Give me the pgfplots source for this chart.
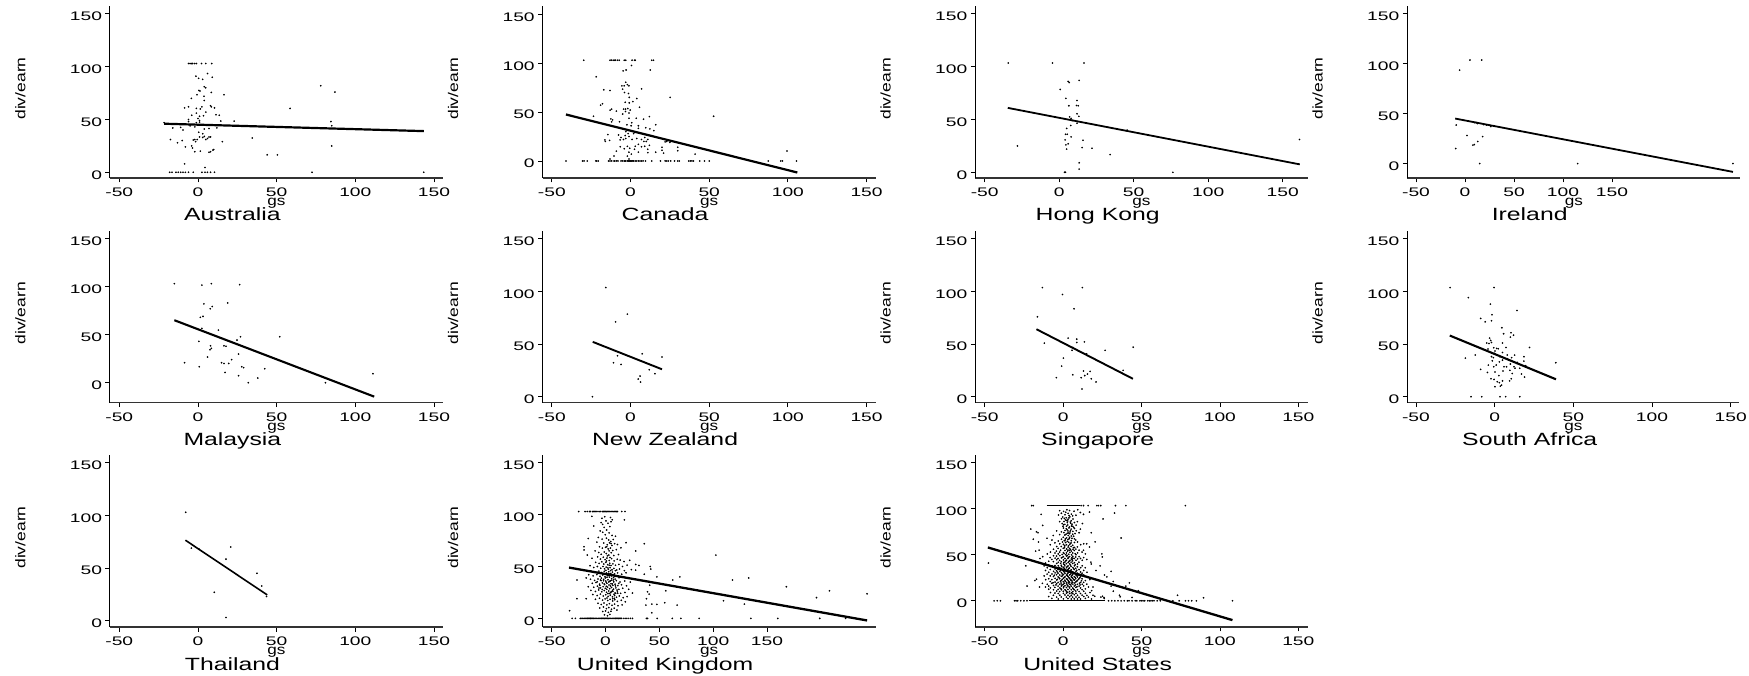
\documentclass[border=0pt]{standalone}
\usepackage{pgfplots}
\pgfplotsset{compat=1.18}
\usepackage{fontspec}
\setmainfont{Liberation Sans}
\newfontfamily\tickf[FakeStretch=1.55]{Liberation Sans}
\newfontfamily\titlef[FakeStretch=1.4]{Liberation Sans}
\newfontfamily\labf[FakeStretch=1.25]{Liberation Sans}
\pgfplotsset{
 panel/.style={
  scale only axis,width=333pt,height=171.5pt,
  axis x line=bottom,axis y line=left,
  x axis line style={-,black!80,line width=1.2pt},
  y axis line style={-,black,line width=1pt},
  xtick={-50,0,50,100,150},xticklabels={-50,0,50,100,150},
  ytick={0,50,100,150},yticklabels={0,50,100,150},
  tick align=outside,major tick length=4.5pt,
  tick style={black,line width=0.8pt},
  x tick label style={font=\tickf\fontsize{12.4}{12.4}\selectfont,yshift=-2pt},
  y tick label style={font=\tickf\fontsize{12.4}{12.4}\selectfont,yshift=-2.6pt},
  xlabel={gs},ylabel={div/earn},
  xlabel style={at={(axis description cs:0.5,0)},anchor=base,yshift=-27.5pt,font=\labf\fontsize{13.7}{14}\selectfont},
  ylabel style={at={(axis description cs:0,0.5)},anchor=center,xshift=3.7pt,yshift=89.7pt,font=\labf\fontsize{14}{14}\selectfont},
  title style={at={(axis description cs:0,0)},anchor=base,xshift=122.4pt,yshift=-49pt,font=\titlef\fontsize{17.7}{18}\selectfont},
 },
 dots/.style={only marks,mark=*,mark size=0.62pt,black,mark options={draw=none,fill=black}},
 fit/.style={no marks,black,line width=#1},
}
\begin{document}
\begin{tikzpicture}[x=1pt,y=1pt]
\path[use as bounding box] (0,0) rectangle (1749,675);
% ---- Australia
\begin{axis}[panel,at={(110pt,497pt)},xmin=-55.9,xmax=155.7,ymin=-5.4,ymax=157,title={Australia}]
\addplot[dots] coordinates {(-6,103)(-5,103)(-4.2,103)(-3.4,103)(-2.1,103)(-1,103)(2.3,103)(4.9,103)(8.7,103)
(-4.2,70)(-.6,73.4)(3.8,72)(4,68)(8.5,75.6)(16.5,73.4)(.6,77.5)(1.3,77)(4,81)(4.9,80)(-1.3,91)(.4,89)(3,88)(6.1,93.5)(9.1,90)
(-8.5,61)(-6,62)(-1,60.5)(1.5,60)(2.5,62)(8,63)(8.5,62)(10.5,61)(5,57)(-1,56)(-4,54)(1,53)(3.5,53.5)(11.5,54.5)(13.5,54)(14.5,48.5)(23,48.5)(-6,50)(-6,48)(-1,47)(1,49)(1,47.5)(0,51)(-21.5,47)(-16,42)(-11,42.5)(-9.5,40)(-5,44)(-2,43)(4,41)(7,41.5)(12,42)(0.5,38)(3,36.5)(-17.5,31)(-13,28)(-10,30)(-4,25)(-3.5,23)(-8,24)(-3,30.5)(-2,31)(-1.5,29)(-.5,31)(1,33.5)(3,33)(4,34)(5,31)(6,32)(7,33.5)(8,33.5)(15.5,29)(-2,19.5)(1.5,20)(7,19)(8,19.5)(9.5,21)(10,21.5)(-8.5,8)(4.5,4.5)(34.5,32.5)(44,16.5)(50.5,16.5)(58.5,60.5)(78,82)(87,76)(84.5,48)(85,44)(85,25)
(-18,0)(-16.5,0)(-14,0)(-12.5,0)(-11,0)(-9.5,0)(-8,0)(-6,0)(-3,0)(2.5,0)(4.5,0)(6,0)(8,0)(10.5,0)(72.5,0)(143.5,0)};
\addplot[fit=2.2pt] coordinates {(-21.5,46)(143.5,39)};
\end{axis}
% ---- Canada
\begin{axis}[panel,at={(542.7pt,497pt)},xmin=-55.8,xmax=155.8,ymin=-17.4,ymax=157.9,title={Canada}]
\addplot[dots] coordinates {(-29.7,103)(-13,103)(-12,103)(-11,103)(-10,103)(-9.5,103)(-8.3,103)(-7.2,103)(-4,103)(-3,103)(1,103)(2.5,103)(3,103)(13.5,103)(14.6,103)
(-4.7,92)(-2.8,93)(.6,97.6)(12.5,93)(-21.8,86)(-17,72.7)(-13,72)(7,73.7)(25.2,65)(52.8,45.7)(99.4,10.2)
(-5.5,76.8)(-4,76.8)(-3,80.5)(-2,78)(-1,76.8)(-5,73.4)(-3.8,70)(-1.3,69)(-.8,65)(4,63.8)(1.5,60.7)(-3.4,60)(-.8,59.4)(-17.8,58.4)(-19,57)(5.7,55)(-13,52)(-12,53)(-9,51)(-4.4,53)(-3.2,53)(-1.7,53.6)(-.2,52)(-3.2,50.5)(-5,48)(-1,49)(-23.5,45.7)(12,45.4)(-12.5,43)(-11.4,42)(-12,40)(-7,40)(3.6,43.7)(8.3,42.7)(16,37)(-1,43.7)(.8,39)(.4,36)(5,36)(-2.3,37)(5,33.4)(9.7,34)(12.3,32.8)(14.8,31)(-14.4,27)(-16.3,21.5)(-16,20)(-13.3,21)(-7.6,26.6)(-3.4,26)(-6.6,21.5)
(-5,33)(-3,30)(-1.5,28)(0,31)(2,28)(-6,24)(-4.5,22)(-3,23)(-1,25)(1,22)(4,23)(7,22)(9,24)(10,20)(11,22)(8.5,20)(5,17)(3,15)(-2,15)(-6.5,14.5)(-4,12.5)(-.5,13)(2.5,12)(7,14.5)(9,15)(12,16)(11,12)(5,9)(11,8.5)(16,9)(20,14)(20,11)(21,8)(23,20)(25,19)(30,14)(30,10.5)(41,7)(-9,10)(-10.5,5)(-13,2)(-1,9)(-2,5)(-1,2)(0.5,7)(22,19.5)
(-41,0)(-30.5,0)(-29.5,0)(-27.5,0)(-22,0)(-21.5,0)(-20.5,0)(-14,0)(-13,0)(-12,0)(-10.5,0)(-10,0)(-9,0)(-8,0)(-6,0)(-5,0)(-4,0)(-3.5,0)(-3,0)(-2,0)(-1.5,0)(-1,0)(-.5,0)(0,0)(.5,0)(1,0)(1.5,0)(2,0)(3,0)(4,0)(5,0)(6,0)(7,0)(8,0)(9.5,0)(13.5,0)(19,0)(22,0)(23,0)(24,0)(25.5,0)(28,0)(30,0)(31,0)(37,0)(38,0)(39,0)(40,0)(44,0)(47,0)(50,0)(87.5,0)(95.5,0)(96.5,0)(105.5,0)};
\addplot[fit=2.2pt] coordinates {(-41,47.5)(106,-11.8)};
\end{axis}
% ---- Hong Kong
\begin{axis}[panel,at={(975.3pt,497pt)},width=332.4pt,xmin=-56.3,xmax=166.8,ymin=-5.4,ymax=157,title={Hong Kong}]
\addplot[dots] coordinates {(-34.2,103.5)(-4.5,103.5)(16.6,103.5)(6,86)(6.7,85)(13.4,87)(.7,78.5)(4.5,70)(12,68)(6.5,63)(11.6,63.3)(12.8,63)(13.2,53)(12,55.4)(7,52.5)(8,51)(8.7,49)(12,46.5)(7.8,44.3)(5,41.5)(45.6,40)(4.3,36)(5.4,36)(8,33.5)(4,30.7)(16,30.4)(4.5,26)(6,27)(-28,25)(5,22)(15.4,23.4)(22,22.8)(34.2,16.8)(13.4,9)(13.4,3)(3.6,0)(4.2,0)(76.3,0)(161.3,31)};
\addplot[fit=1.8pt] coordinates {(-34.5,61)(161.5,7.5)};
\end{axis}
% ---- Ireland
\begin{axis}[panel,at={(1407.3pt,497pt)},xmin=-58.9,xmax=281,ymin=-14.4,ymax=157,title={Ireland}]
\addplot[dots] coordinates {(5,103.5)(17,103.5)(-5.5,93.4)(-9,38.5)(2,28)(-9.5,15)(8,18.4)(9.5,19)(13,22)(18,27)(9.5,41)(11.3,41)(12.6,40)(19,39)(22,38.5)(26.3,37)(15,0)(115,0)(273.5,0)};
\addplot[fit=1.8pt] coordinates {(-10,45)(273.5,-8.3)};
\end{axis}
% ---- Malaysia
\begin{axis}[panel,at={(110pt,272.3pt)},xmin=-55.9,xmax=155.7,ymin=-20.8,ymax=157.6,title={Malaysia}]
\addplot[dots] coordinates {(-15,103)(2.5,101.5)(8.5,103)(26.5,102)(3.8,82)(18.9,83)(9.1,79.3)(7.8,77)(1.5,68)(3.2,69)(2.5,56.5)(13,54.7)(27,47.8)(52,47.8)(24.8,44.3)(.6,43)(16.5,38.4)(17.8,38)(8,38.4)(8.5,35.7)(7.6,34.3)(25.8,29.8)(6.1,26.7)(21.4,24)(15,20.8)(16.5,20)(19.5,20)(-8.5,20.8)(.8,16.6)(27.8,16.6)(29,15.6)(42.4,14.5)(17.2,10.7)(25.8,7.3)(38,4.8)(32,0)(81,0)(111.2,9.4)};
\addplot[fit=2.1pt] coordinates {(-15,65)(112,-14.5)};
\end{axis}
% ---- New Zealand
\begin{axis}[panel,at={(542.7pt,272.3pt)},xmin=-55.8,xmax=155.8,ymin=-5.7,ymax=157,title={New Zealand}]
\addplot[dots] coordinates {(-15.7,103.5)(-2,78.3)(-9.5,71)(7.4,40.7)(20,37.6)(-8.3,38.8)(-10.8,32.2)(-6,30.6)(11.9,25.6)(15.5,21.8)(6.1,19.6)(4.9,16.7)(6.4,13.9)(-24.2,0)};
\addplot[fit=1.9pt] coordinates {(-24,52)(20,26)};
\end{axis}
% ---- Singapore
\begin{axis}[panel,at={(975.3pt,272.3pt)},width=332.4pt,xmin=-56,xmax=156,ymin=-5.7,ymax=157,title={Singapore}]
\addplot[dots] coordinates {(-13.2,103.5)(12.3,103.5)(-.4,97)(7,83.4)(-16.4,75.8)(3.2,55.6)(8.7,54.6)(8.7,51.5)(13.6,52)(-12,50.8)(44.7,47)(26.8,44)(6.2,46.7)(5.7,44)(15,40.7)(.2,36.6)(-.9,29)(38.3,25)(13,24.3)(17.2,24)(15.5,21.5)(13.8,20)(6.2,20.8)(-4.3,18)(11.5,18)(18,17)(21,14)(12,7.3)};
\addplot[fit=1.9pt] coordinates {(-17,64)(44.5,17)};
\end{axis}
% ---- South Africa
\begin{axis}[panel,at={(1407.3pt,272.3pt)},width=332pt,xmin=-55.5,xmax=155.5,ymin=-5.7,ymax=157,title={South Africa}]
\addplot[dots] coordinates {(-28.3,103.5)(-.4,103.5)(-16.7,94)(-2.7,87.8)(14.2,81.8)(-1.7,77.7)(-8.9,74.2)(-2,72)(-6,71)(4.6,65.4)(5.7,59.7)(10.4,60.6)(12,58.4)(10,56.5)(-3.2,55.6)(-2.5,53.4)(-5,51)(-3.6,50.5)(-2,51.5)(5,51)(22.2,46.7)(7.2,46.7)(-.6,46.4)(1.3,45.8)(2.3,45.5)(-4.2,45.2)(.2,43.3)(5,42)(-12.3,39.5)(-18.6,36.6)(8,39.5)(12.7,39.5)(18.6,37.9)(10.8,37)(-.8,37)(-1.5,34)(3.4,38)(5,34.7)(18.6,33.8)(38.9,32.2)(-4,30)(-.6,28.4)(6,28.4)(7.6,28.4)(14.4,32.5)(12.3,28.4)(19.7,29.4)(-8.9,25.9)(-4.6,23)(.2,23.4)(5.3,24.3)(9.7,25)(11.2,22)(17.1,21.5)(2.7,20)(19,18.6)(-2.3,17)(-.4,16.4)(10.6,17)(9.5,15)(5,15)(1.7,14.2)(3,13.3)(4.4,11)(3.6,10)(.2,9.5)(-15,0)(-8.2,0)(3.4,0)(7,0)(16,0)(8,36)(0,41)(3,33)(1,30)(-2,38)(10,31)(13,27)(16,27)};
\addplot[fit=2.1pt] coordinates {(-28.5,58)(39,16.5)};
\end{axis}
% ---- Thailand
\begin{axis}[panel,at={(110pt,48pt)},xmin=-55.9,xmax=155.7,ymin=-6,ymax=157,title={Thailand}]
\addplot[dots] coordinates {(-7.8,103)(20.8,70)(-4.2,69)(.8,68)(17.8,58.5)(37.5,45)(40.5,33)(10.4,27)(43.6,23)(17.8,3)};
\addplot[fit=1.6pt] coordinates {(-8,76.5)(44,24.5)};
\end{axis}
% ---- United Kingdom
\begin{axis}[panel,at={(542.7pt,48pt)},xmin=-58.4,xmax=251,ymin=-8.3,ymax=157,title={United Kingdom}]
\addplot[dots] coordinates {
(-25,103)(-19,103)(-17,103)(-15,103)(-14,103)(-12,103)(-11,103)(-10,103)(-9,103)(-8,103)(-6,103)(-5,103)(-3,103)(-2,103)(-1,103)(0,103)(1,103)(2,103)(3,103)(4,103)(5,103)(6,103)(7,103)(8,103)(9,103)(10,103)(11,103)(15,103)(18,103)
(102.5,61)(36,72)(19,73)(28,65)(118,37)(133,39)(168,30.5)(208,26.6)(196,20)(243,23.7)(109.6,17)(129,13.8)(69,40)(62.5,37)(47.7,40)(41.5,50)(42,47.5)(36,42.6)(31,51)(28,52)(28,46.5)(56,26.6)(41,32)(39,25.6)(40.5,23.4)(38,19)(37.5,12.8)(43,13.8)(47.7,13.5)(55,15)(66.5,12.8)(43,5.4)(-33.4,7.4)
(-26.6,37)(-26.6,19)(-18,39)(-18,19)(-20,69)(-20,66)(-16,77)(-17,61)(-11,89)(-12.7,98.4)(17.5,95)
(-31,0)(-28,0)(-23.5,0)(-22,0)(-21,0)(-20,0)(-19,0)(-18,0)(-17,0)(-16,0)(-15,0)(-14,0)(-13,0)(-12,0)(-11,0)(-10,0)(-9,0)(-8,0)(-7,0)(-6,0)(-5,0)(-4,0)(-3,0)(-2,0)(-1,0)(0,0)(1,0)(2,0)(3,0)(4,0)(5,0)(6,0)(7,0)(8,0)(9,0)(10,0)(11,0)(12,0)(13,0)(14,0)(15,0)(17,0)(19,0)(21,0)(23,0)(25,0)(38,0)(39,0)(48,0)(62,0)(70,0)(87,0)(135,0)(160,0)(199,0)(223,0)
(-3.4,96.5)(-.8,98)(4.6,97.2)(6.2,95)(-4.2,92.3)(-2.7,90.6)(.4,94)(2.2,91.7)(5.1,93.2)(4,88.5)(-1.3,87.7)(1,85.2)(-5,84.3)(-2.6,83)(3.3,82.4)(-.3,80.6)(6,80)(9.2,79.2)(-6.7,78)(-3.2,76.4)(.8,77.3)(2.9,75.6)(4.8,74.1)(7.2,76)(-8,73.5)(-1.7,72.6)(1.6,71)(3.7,72.8)(5.9,70.3)(8.4,72)(11,71.2)(-5.6,69)(-3,67.7)(0,68.5)(2.4,66.9)(4.5,67.8)(6.7,65.5)(10,66.3)(14.3,68)(-9.7,65)(-6.4,63.5)(-4.1,61.8)(-1.2,64)(.7,62.5)(3,61)(5.2,63.3)(7.7,60.6)(12,61.5)
(-12.6,58)(-7.3,59.3)(-4.8,57.2)(-2.1,59)(-.4,56.7)(1.3,58.1)(3.4,55.8)(5.6,57.6)(8,55.4)(10.8,57)(13.6,56.2)(17.2,54.8)(22.4,56)(-9.2,54)(-6,53)(-3.5,54.5)(-1.6,52.4)(.2,54)(2,51.8)(3.9,53.2)(5.1,51)(6.8,52.6)(9.2,51.2)(12.4,52)(15.7,50)(20,51.3)(-14.4,50.8)(-11,49)(-7.6,50)(-4.5,48.3)(-2.4,50)(-.9,47.8)(.6,49.4)(2.6,47.4)(4.2,48.9)(6,46.8)(7.8,48.2)(10.4,46.6)(13,47.6)(17.5,46)(24,47)(-13.2,45.4)(-9.4,44.6)(-6.2,45.6)(-3.7,44.2)(-1.2,45.4)(.9,43.8)(3,44.9)(4.8,43.2)(6.4,44.6)(8.4,42.8)(11.2,43.8)(15,42.6)(19,43.9)(-15.6,42)(-11.6,41)(-8,42.2)(-5.2,40.6)(-2.6,41.8)(-.5,40.2)(1.7,41.4)(3.6,39.8)(5.4,41)(7.4,39.3)(9.6,40.6)(12.6,39.2)(16.4,40)(21,38.6)
(-14,37.8)(-10.2,36.6)(-7,38)(-4.2,36.4)(-1.8,37.6)(.2,36)(2.2,37.2)(4,35.6)(5.8,36.8)(7.6,35.2)(10,36.4)(13.4,35)(17.8,36)(23,35)(-12.3,33.8)(-8.8,34.6)(-5.6,33)(-3,34.2)(-.9,32.6)(1.2,33.8)(3.2,32.2)(5,33.4)(6.8,31.8)(8.8,33)(11.4,31.6)(14.8,32.4)(19.5,31.4)(-16,30.5)(-11,30)(-7.6,31)(-4.6,29.4)(-2.2,30.6)(-.2,29)(1.9,30.2)(3.8,28.6)(5.6,29.8)(7.4,28.2)(9.6,29.4)(12.4,28)(16,29)(21.5,28)(-13.6,27)(-9.4,26)(-6.4,27.4)(-3.5,25.6)(-1.2,26.8)(.9,25.2)(3,26.4)(4.8,24.8)(6.8,26)(8.8,24.4)(11,25.6)(14,24.2)(18,25)(25,24.4)(-11.8,23)(-7.8,22)(-4.8,23.4)(-2.2,21.6)(.2,22.8)(2.4,21.2)(4.4,22.4)(6.4,20.8)(8.4,22)(10.2,20.4)(12.8,21.6)(16.4,20)(20,21)(-9.4,18.4)(-5.6,19.4)(-2.8,17.6)(-.4,18.8)(2,17.2)(4.2,18.4)(6.6,16.8)(8.6,18)(11,16.4)(14.6,17.4)(18.4,16)
(-7,14.6)(-4,13.4)(-1.4,14.8)(1.2,13)(3.6,14.2)(6,12.6)(8.4,13.8)(11.6,12.2)(15.4,13)(-5.4,10)(-2,11)(.8,9.4)(3,10.4)(5.6,8.8)(8,9.8)(10.6,8)(-2.6,6.6)(0,7.2)(2.6,5.8)(5,6.8)(-1,3.4)(1.8,2.6)(4,3.8)
(3.1,43.1)(1.4,39.7)(5.7,38.3)(.6,34.8)(2.9,35.1)(7.3,37.1)(-1.9,36.2)(4.6,31.3)(1.1,28.1)(6.4,27.1)(9.2,31.3)(-3.1,27.9)(3.4,24.1)(.7,30.9)(7.8,23.3)(-5.3,31.9)(10.7,27.3)(5.3,25.7)(2.1,23.9)(8.1,19.3)(1.3,19.7)(6.7,18.9)(9.4,24.1)(-1.3,33.3)(2.7,41.3)(4.7,46.1)(-1.7,42.9)(6.9,42.2)(.3,46.3)(2.1,48.7)(3.4,51.2)(.9,55.3)(4.1,58.7)(1.7,60.3)(3.3,65.1)(1.1,69.1)(5.1,72.1)(-4.7,36.9)(-7.7,35.3)(12.2,33.7)(8.9,37.9)(-3.9,38.9)(-6.1,29.3)(11.3,24.3)(6.3,33.2)(4.4,36.3)(-.3,39)(.1,43)(9.1,46)};
\addplot[fit=2.3pt] coordinates {(-34,49)(243,-2)};
\end{axis}
% ---- United States
\begin{axis}[panel,at={(975.3pt,48pt)},width=332.4pt,xmin=-56,xmax=156,ymin=-28.5,ymax=158,title={United States}]
\addplot[no marks,black,line width=1.3pt] coordinates {(-22,0)(27,0)};
\addplot[no marks,black,line width=1.1pt] coordinates {(-10.5,103.5)(10.5,103.5)};
\addplot[dots] coordinates {
(-20,103.5)(-19,103.5)(11.5,103.5)(13,103.5)(16,103.5)(21.5,103.5)(22.5,103.5)(24,103.5)(33.4,103.5)(40,103.5)(78,103.5)
(37,68.3)(25.5,89)(32.8,95.4)(-47.6,41)(-23.8,38)(-23,16)(-15,15)(-17,23.5)(-18,22)(-20.6,78)(-17,75)(-13,82)(-14,94)(-16,74)(-19,67)(-15.7,64)(-17.5,54)(-15.3,55)(-13,48)(-14.7,46)(11,96)(13,94)(16.8,96.5)(12.3,84)(18,74)(11,78)(20.4,64)(15,62)(16.8,58.5)(13,55)(24.7,51)(25,47.7)(17.7,42)(18,40)(21,33)(23.6,38)(30.6,32)(26.4,28)(27.9,26)(32,21)(42.3,19.5)(40,16)(30.6,16)(32,10.5)(36,6)(36.4,4.3)(44,3.6)(48,11)(73,6)(89.6,3.3)
(-44,0)(-42,0)(-40,0)(-31,0)(-30,0)(-29,0)(-27,0)(-25,0)(-23,0)(29,0)(31,0)(33,0)(35,0)(37,0)(39,0)(41,0)(42,0)(44,0)(46,0)(47,0)(49,0)(50,0)(51,0)(52,0)(54,0)(55,0)(56,0)(57,0)(58,0)(60,0)(62,0)(70,0)(74,0)(78,0)(80,0)(82,0)(85,0)(108,0)
(-2.2,98)(.3,97.2)(2.4,99)(4.1,98.1)(7,97.4)(9.3,99)(-1.1,95.2)(1.2,93.6)(3.2,95.1)(5.3,94.2)(6.1,92.3)(-.2,91.1)(2,90.4)(4.3,91.2)(-3,93.3)(8.2,93.1)
(-1,89.2)(1.4,88)(3.1,88.7)(5.2,87.1)(6.3,89)(.6,86.2)(2.7,85)(4.6,85.6)(7.2,85.1)(1.1,83.1)(3,82.4)(5.7,83.3)(-.6,84)(2.2,81.1)(4.1,80.3)(6.2,81)(8.3,82.2)(-.1,81)(-2.2,86.1)(9.1,86)
(.2,79.1)(2,78.4)(3.7,79.2)(5.1,78)(7.3,78.6)(1.2,76.4)(3.1,76)(4.7,76.1)(6.2,75.5)(8.4,76.2)(-1.1,75)(.5,74.2)(2.6,73.4)(4.2,73)(6.1,72.4)(7.6,73.1)(-2.2,72)(1.1,71.5)(3.3,71)(5.2,70.4)(-4.1,76)(10.2,74)(-6.3,71)
(.1,69.1)(2.2,68.4)(4.1,69)(5.6,68)(7.2,67.4)(-1,67)(1.3,66)(3.1,66.6)(5.2,65.4)(8.1,66.1)(-3.1,65)(-.4,64)(1.6,63.4)(3.6,63.6)(5.1,63)(7.2,63.4)(9.2,64)(-2.2,62)(.2,61.4)(2.1,61)(4.2,61.1)(6.1,60.4)(-5.2,63)(-7.1,66)(-10.3,68)(11.2,61)(13.1,62)(-8.2,61)
(-4.1,59)(-1.2,59.1)(1.1,59.6)(3.2,58.4)(5.1,59.1)(7.3,58)(9.1,58.6)(-3.2,57)(.1,57.1)(2.2,56.4)(4.1,57)(6.3,56)(8.1,56.2)(-6.1,56)(-1.6,55)(1.2,54.6)(3.1,55.1)(5.3,54)(7.1,54.6)(10.2,55)(-4.3,54)(-8.1,53)(-2.2,53)(.2,52.4)(2.1,52)(4.3,52.6)(6.1,52)(9.2,52.1)(12.1,53)(-5.2,52)(-3.1,51)(-.6,50.4)(1.7,50)(3.6,50.6)(5.4,50)(8.2,50.1)(-10.1,51)(14.2,51)
(-6.1,49)(-4.2,48.6)(-2.1,49.1)(.1,48)(2.2,48.6)(4.1,48)(6.2,48.4)(8.1,47.6)(10.2,48)(13.1,47)(-8.3,47)(-5.1,46.4)(-3.2,46)(-1.1,46.6)(1.2,46.1)(3.1,45.9)(5.2,45.4)(7.1,46)(9.3,45.6)(11.1,46.1)(-7.2,45)(-4.1,44.6)(-2.2,44)(.2,44.4)(2.1,44.1)(4.3,43.9)(6.1,43.4)(8.2,44.1)(12.2,44)(15.1,45)(-9.1,43)(-6.2,42.6)(-3.1,42)(-1.2,42.4)(1.1,42.1)(3.2,41.6)(5.1,42)(7.2,41.4)(10.1,42)(-11.2,41)(-4.1,40.6)(.2,40)(2.1,40.4)(4.2,40.1)(6.1,40.6)(9.2,40)
(-12.1,38)(-9.2,39)(-7.1,38.1)(-5.2,38.4)(-3.1,38)(-1.2,38.6)(1.1,38)(3.2,37.9)(5.1,37.4)(7.2,38.1)(9.1,37)(12.2,38)(-10.1,36)(-6.2,36.6)(-4.1,36)(-2.2,36.1)(.1,36.4)(2.2,36)(4.1,35.6)(6.2,36.1)(8.1,35.4)(11.2,36)(14.1,36)(-8.2,34)(-5.1,34.6)(-3.2,34)(-1.1,34.1)(1.2,34.4)(3.1,34)(5.2,33.6)(7.1,34.1)(10.2,34)(13.1,33)(-11.2,33)(-6.1,32)(-4.2,32.6)(-2.1,32)(.2,32.1)(2.1,32.4)(4.2,32)(6.1,31.6)(8.2,32.1)(11.1,31.4)(-9.2,31)(-5.1,30.4)(-3.2,30)(-1.1,30.6)(1.2,30)(3.1,30.1)(5.2,30.4)(7.1,30)(9.2,29.9)(12.1,30)(15.2,31)
(-10.2,29)(-7.1,29.1)(-4.2,28.4)(-2.1,28)(.2,28.6)(2.1,28)(4.2,28.1)(6.1,28.4)(8.2,28)(10.1,27.9)(13.2,28)(-12.1,27)(-8.2,27.1)(-6.1,26.4)(-3.2,26)(-1.1,26.6)(1.2,26)(3.1,26.4)(5.2,26)(7.1,26.1)(9.2,25.9)(11.1,26.6)(15.2,26)(-5.1,24.4)(-2.2,24)(.1,24.6)(2.2,24)(4.1,24.1)(6.2,24.4)(8.1,24)(10.2,24.1)(12.1,23.9)(-9.2,24)(-11.1,23)(-7.2,23)(-4.1,22.6)(-1.2,22)(1.1,22.4)(3.2,22)(5.1,22.1)(7.2,22.6)(9.1,22)(14.2,22)(17.1,23)(-8.2,21)(-5.1,20.4)(-3.2,20)(.1,20.6)(2.2,20)(4.1,20.1)(6.2,19.9)(8.1,20.4)(11.2,20)(13.1,20.1)
(-13.2,19)(-10.1,18)(-7.2,19)(-4.1,18.6)(-2.2,18)(.1,18.1)(2.2,18.4)(4.1,18)(6.2,18.1)(9.1,17.9)(12.2,18)(15.1,18.1)(-9.2,16)(-6.1,16.6)(-3.2,16)(-1.1,16.1)(1.2,16.4)(3.1,16)(5.2,15.9)(7.1,16.1)(10.2,16)(13.1,16.2)(-11.2,15)(-8.1,14)(-5.2,14.6)(-2.1,14)(.2,14.1)(2.1,14.4)(4.2,14)(6.1,13.9)(8.2,14.6)(11.1,14)(16.2,15)(19.1,15)(-9.2,12.6)(-6.1,12)(-3.2,12.4)(-1.1,12)(1.2,12.1)(3.1,12.4)(5.2,12)(7.1,11.9)(9.2,12)(12.1,12.1)(14.2,13)(-4.1,10.6)(-2.2,10)(.1,10.4)(2.2,10)(4.1,10.1)(6.2,9.9)(8.1,10.6)(10.2,10)(13.1,10.4)(18.2,11)
(-8.1,9)(-5.2,8.4)(-3.1,8)(.2,8.1)(2.1,8.4)(4.2,8)(6.1,7.9)(8.2,8.1)(11.1,8)(14.2,8.1)(17.1,9)(-6.2,6)(-2.1,6.1)(1.2,6.4)(3.1,6)(5.2,5.9)(7.1,6.6)(9.2,6)(12.1,6.1)(15.2,5.9)(19.1,6)(-9.2,4.6)(-4.1,4)(-1.2,4.1)(2.1,4)(4.2,4.4)(6.1,4)(8.2,4.1)(10.1,3.9)(13.2,4.6)(16.1,4)(20.2,5)(24.1,4)(-7.2,2.6)(-3.1,2)(.2,2.1)(3.1,2.4)(5.2,2)(7.1,2.1)(9.2,1.9)(11.1,2)(14.2,2.6)(18.1,2)(26.2,2.5)(25.1,5)(26.1,3.5)
(1.7,96.3)(3.8,92.7)(.8,89.6)(2.9,86.8)(4.9,84.3)(.3,82.7)(6.8,79.7)(2.5,77.2)(4.4,74.8)(1.8,72.3)(3.9,67.6)(6.7,70.2)(.7,65.3)(2.7,64.7)(4.6,62.2)(.9,60.2)(3.4,59.7)(6.6,57.8)(2.8,53.8)(4.7,55.9)(.6,51.3)(7.7,51.2)(-.7,47.2)(3.3,47.3)(5.6,46.9)(1.7,43.2)(3.7,42.8)(-1.6,40.7)(.9,39.3)(7.7,39.2)(2.6,37.2)(4.7,38.8)(-2.6,35.1)(.7,35.3)(3.6,35.2)(6.7,34.9)(-1.7,33.2)(2.4,33.1)(4.6,33)(8.7,33.2)(-3.7,31.3)(.8,31.2)(3.4,31.1)(5.8,31.3)(-.6,29.2)(2.7,29.3)(4.8,29.1)(7.7,29.2)(-5.6,27.8)(-.4,27.3)(2.8,27.1)(5.6,27.4)(8.8,27.2)(-2.7,25.2)(.7,25.3)(3.7,25.1)(5.8,25.2)(7.7,25.3)(10.7,25.1)(-3.7,23.3)(-.6,23.2)(2.7,23.4)(4.8,23.2)(6.7,23.1)(9.7,23.3)(-1.7,21.2)(1.4,21.3)(3.6,21.1)(5.7,21.4)(8.6,21.2)(11.7,21.8)(-6.4,19.7)(-1.3,19.3)(.9,19.1)(3.3,19.4)(5.3,19.2)(7.4,19.3)(10.4,19.1)(-4.6,17.2)(-.7,17.3)(2.7,17.1)(4.8,17.4)(7.7,17.2)(10.8,17.3)(1.4,67.3)(3.3,73.7)(5.4,81.3)(2.2,87.3)(3.7,90.1)(.9,57.7)(4.2,54.8)(.4,41.7)(5.7,44.7)(2.6,49.2)(6.3,46.2)(-.9,37.2)(3.9,15.1)(.4,15.4)(6.6,12.9)(2.9,9.2)(5.3,8.7)(1.7,11.2)(8.9,15.3)(-1.4,13.2)};
\addplot[fit=2.3pt] coordinates {(-48,58)(108,-21)};
\end{axis}
\end{tikzpicture}
\end{document}
